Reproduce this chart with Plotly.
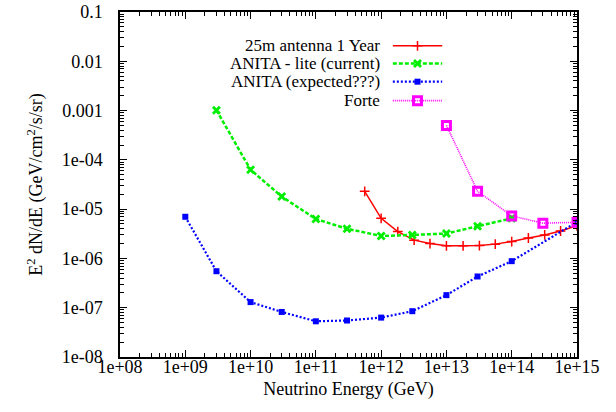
import plotly.graph_objects as go

# ---------------- data ----------------
red_name = "25m antenna 1 Year"
red_x = [5.6e11, 1e12, 1.8e12, 3.2e12, 5.6e12, 1e13, 1.8e13, 3.2e13, 5.6e13,
         1e14, 1.8e14, 3.2e14, 5.6e14, 1e15]
red_y = [2.3e-5, 6.5e-6, 3.5e-6, 2.35e-6, 2.0e-6, 1.8e-6, 1.8e-6, 1.82e-6, 1.95e-6,
         2.2e-6, 2.6e-6, 3.0e-6, 3.6e-6, 4.6e-6]

green_name = "ANITA - lite (current)"
green_x = [3e9, 1e10, 3e10, 1e11, 3e11, 1e12, 3e12, 1e13, 3e13, 1e14]
green_y = [1.02e-3, 6.3e-5, 1.8e-5, 6.3e-6, 4.0e-6, 2.85e-6, 3.0e-6, 3.2e-6, 4.5e-6, 6.5e-6]

blue_name = "ANITA (expected???)"
blue_x = [1e9, 3e9, 1e10, 3e10, 1e11, 3e11, 1e12, 3e12, 1e13, 3e13, 1e14, 1e15]
blue_y = [7.0e-6, 5.5e-7, 1.3e-7, 8.2e-8, 5.3e-8, 5.5e-8, 6.3e-8, 8.5e-8, 1.8e-7,
          4.3e-7, 8.8e-7, 5.5e-6]

mag_name = "Forte"
mag_x = [1e13, 3e13, 1e14, 3e14, 1e15]
mag_y = [5.0e-4, 2.3e-5, 7.3e-6, 5.2e-6, 5.4e-6]

x_tickvals = [1e8, 1e9, 1e10, 1e11, 1e12, 1e13, 1e14, 1e15]
x_ticktext = ["1e+08", "1e+09", "1e+10", "1e+11", "1e+12", "1e+13", "1e+14", "1e+15"]
y_tickvals = [1e-8, 1e-7, 1e-6, 1e-5, 1e-4, 1e-3, 1e-2, 1e-1]
y_ticktext = ["1e-08", "1e-07", "1e-06", "1e-05", "1e-04", "0.001", "0.01", "0.1"]

# ---------------- styles ----------------
FONT = "Liberation Serif"
FS = 18
KEY_FS = 17
styles = [
    dict(name=red_name, x=red_x, y=red_y, color="#ff0000", width=1.5, dash="solid",
         symbol="cross-thin", size=7, mlw=1.5),
    dict(name=green_name, x=green_x, y=green_y, color="#00ee00", width=2.5, dash="4px,2px",
         symbol="x-thin", size=7, mlw=2.8),
    dict(name=blue_name, x=blue_x, y=blue_y, color="#0000ff", width=2.2, dash="2px,2px",
         symbol="square", size=6, mlw=0),
    dict(name=mag_name, x=mag_x, y=mag_y, color="#ff00ff", width=1.6, dash="1px,1px",
         symbol="square-open", size=8, mlw=3),
]

fig = go.Figure()
for s in styles:
    fig.add_trace(go.Scatter(
        x=s["x"], y=s["y"], mode="lines+markers", name=s["name"], showlegend=False,
        line=dict(color=s["color"], width=s["width"], dash=s["dash"]),
        marker=dict(symbol=s["symbol"], size=s["size"], color=s["color"],
                    line=dict(color=s["color"], width=s["mlw"])),
    ))

# ---------------- hand-made gnuplot style key (text left, sample right) ----------------
key_text_x = 0.573
key_x0, key_x1 = 0.597, 0.705
key_rows = [0.902, 0.851, 0.798, 0.743]
for s, ky in zip(styles, key_rows):
    fig.add_trace(go.Scatter(
        x=[key_x0, key_x1], y=[ky, ky], mode="lines", xaxis="x2", yaxis="y2",
        showlegend=False, hoverinfo="skip",
        line=dict(color=s["color"], width=s["width"], dash=s["dash"])))
    fig.add_trace(go.Scatter(
        x=[(key_x0 + key_x1) / 2], y=[ky], mode="markers", xaxis="x2", yaxis="y2",
        showlegend=False, hoverinfo="skip",
        marker=dict(symbol=s["symbol"], size=s["size"], color=s["color"],
                    line=dict(color=s["color"], width=s["mlw"]))))
    fig.add_annotation(x=key_text_x, y=ky, xref="x2", yref="y2", text=s["name"],
                       showarrow=False, xanchor="right", yanchor="middle",
                       font=dict(family=FONT, size=KEY_FS, color="black"))

def minor_vals(lo, hi):
    out = []
    for e in range(lo, hi):
        for m in range(2, 10):
            out.append(m * 10.0 ** e)
    return out

axis_common = dict(
    type="log", showgrid=False, zeroline=False, showline=True, linecolor="black",
    linewidth=1.5, mirror="allticks", ticks="inside", ticklen=7, tickwidth=1,
    tickcolor="black", tickfont=dict(family=FONT, size=FS, color="black"),
    tickmode="array", automargin=False,
)
fig.update_layout(
    width=616, height=412,
    margin=dict(l=120, r=39, t=12, b=55, autoexpand=False),
    paper_bgcolor="white", plot_bgcolor="white",
    font=dict(family=FONT, size=FS, color="black"),
    xaxis=dict(**axis_common, range=[8, 15], tickvals=x_tickvals, ticktext=x_ticktext,
               ticklabelstandoff=-7,
               minor=dict(tickmode="array", tickvals=minor_vals(8, 15), ticks="inside",
                          ticklen=4, tickcolor="black", tickwidth=1),
               title=dict(text="Neutrino Energy (GeV)", standoff=6,
                          font=dict(family=FONT, size=FS))),
    yaxis=dict(**axis_common, range=[-8, -1], tickvals=y_tickvals, ticktext=y_ticktext,
               ticklabelstandoff=12,
               minor=dict(tickmode="array", tickvals=minor_vals(-8, -1), ticks="inside",
                          ticklen=4, tickcolor="black", tickwidth=1),
               title=dict(text="E<sup>2</sup> dN/dE (GeV/cm<sup>2</sup>/s/sr)", standoff=14,
                          font=dict(family=FONT, size=FS))),
    xaxis2=dict(overlaying="x", range=[0, 1], visible=False, fixedrange=True,
                showticklabels=False),
    yaxis2=dict(overlaying="y", range=[0, 1], visible=False, fixedrange=True,
                showticklabels=False),
)

fig.write_html("out.html", config={"displayModeBar": False},
               post_script="document.body.style.margin='0';")
